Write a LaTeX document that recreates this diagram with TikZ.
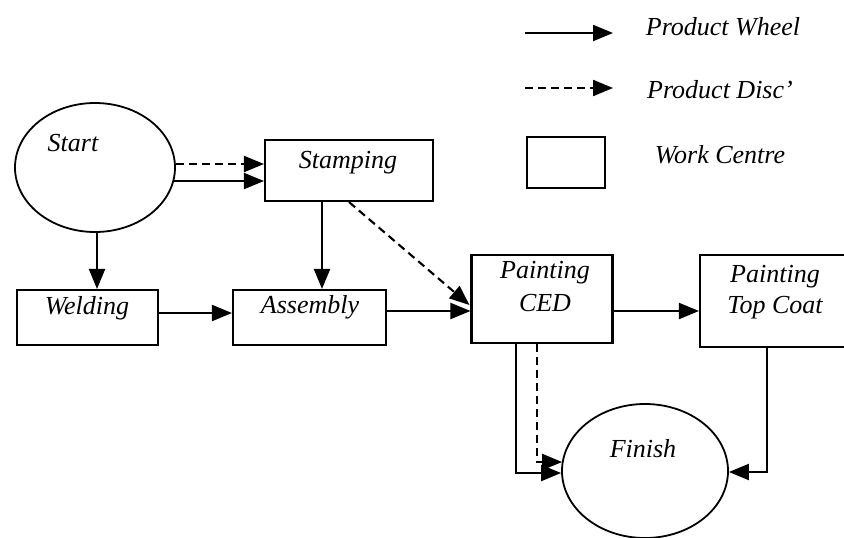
\documentclass[tikz,border=0pt]{standalone}
\usepackage{fontspec}
\setmainfont{Liberation Serif}
\usetikzlibrary{arrows.meta,shapes.geometric,calc}

\tikzset{
  wheel/.style={line width=2.1pt,-{Triangle[length=20pt,width=16pt]}},
  disc/.style={wheel,dash pattern=on 8pt off 5pt},
  centre/.style={draw,line width=2.1pt,rectangle,inner sep=0pt},
  oval/.style={draw,line width=1.8pt,ellipse,inner sep=0pt},
  lbl/.style={inner sep=0pt,font=\fontsize{26}{30}\selectfont\itshape}
}

\begin{document}
\begin{tikzpicture}[x=1pt,y=-1pt]
\useasboundingbox (0,0) rectangle (844,538);

% legend
\coordinate (lw1) at (525,33);  \coordinate (lw2) at (613,33);
\coordinate (ld1) at (525,88);  \coordinate (ld2) at (613,88);
\draw[wheel] (lw1) -- (lw2);
\draw[disc] (ld1) -- (ld2);
\node[centre,minimum width=78pt,minimum height=51pt] (legbox) at (566,162.5) {};
\node[lbl] (tw) at (723,27) {Product Wheel};
\node[lbl] (td) at (720,90) {Product Disc’};
\node[lbl] (tc) at (720,155) {Work Centre};

% start and finish
\node[oval,minimum width=160pt,minimum height=129pt] (start) at (95,167.5) {};
\node[lbl] (tstart) at (73,143) {Start};
\node[oval,minimum width=166pt,minimum height=134pt] (finish) at (645,471) {};
\node[lbl] (tfinish) at (643,449) {Finish};

% work centres
\node[centre,minimum width=168pt,minimum height=61pt] (stamping) at (349,170.5) {};
\node[lbl] (tstamping) at (348,163) {Stamping};
\node[centre,minimum width=141pt,minimum height=55pt] (welding) at (87.5,317.5) {};
\node[lbl] (twelding) at (87,308) {Welding};
\node[centre,minimum width=153pt,minimum height=55pt] (assembly) at (309.5,317.5) {};
\node[lbl] (tassembly) at (310,307) {Assembly};
\node[centre,minimum width=141pt,minimum height=88pt] (ced) at (542,299) {};
\node[lbl] (tced1) at (545,273) {Painting};
\node[lbl] (tced2) at (545,303) {CED};
\node[centre,minimum width=150pt,minimum height=92pt] (top) at (775,301) {};
\node[lbl] (ttop1) at (775,277) {Painting};
\node[lbl] (ttop2) at (775,308) {Top Coat};

% flows
\coordinate (sd) at ($(start.east)+(0,-3.5)$);
\coordinate (ss) at ($(start.east)+(-2,13.5)$);
\draw[disc] (sd) -- (sd -| stamping.west);
\draw[wheel] (ss) -- (ss -| stamping.west);

\coordinate (sw) at ($(start.south)+(2,0)$);
\draw[wheel] (sw) -- (sw |- welding.north);

\coordinate (sa) at ($(stamping.south)+(-27,0)$);
\draw[wheel] (sa) -- (sa |- assembly.north);

\draw[disc] (stamping.south) -- ($(ced.west)+(-1,6)$);

\coordinate (wa) at ($(welding.east)+(0,-4.5)$);
\draw[wheel] (wa) -- (wa -| assembly.west);

\coordinate (ac) at ($(assembly.east)+(0,-6.5)$);
\draw[wheel] (ac) -- (ac -| ced.west);

\coordinate (ct) at ($(ced.east)+(0,12)$);
\draw[wheel] (ct) -- (ct -| top.west);

\coordinate (cf1) at ($(ced.south)+(-26,0)$);
\coordinate (cf2) at ($(ced.south)+(-5,0)$);
\draw[wheel] (cf1) |- ($(finish.west)+(0,2)$);
\draw[disc] (cf2) |- ($(finish.west)+(1,-9)$);

\coordinate (tf) at ($(top.south)+(-8,0)$);
\draw[wheel] (tf) |- ($(finish.east)+(0,1)$);
\end{tikzpicture}
\end{document}
